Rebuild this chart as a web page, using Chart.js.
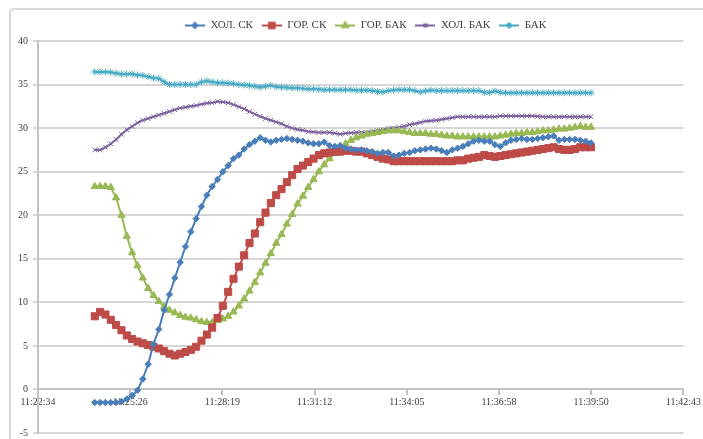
<!DOCTYPE html>
<html>
<head>
<meta charset="utf-8">
<script src="https://cdn.jsdelivr.net/npm/chart.js@4/dist/chart.umd.min.js"></script>
<style>
  html, body { margin: 0; padding: 0; background: #ffffff; }
  #wrap { position: relative; width: 703px; height: 439px; overflow: hidden; }
  #c { position: absolute; left: 0; top: 0; }
  #frame { position: absolute; left: 9px; top: 8px; width: 700px; height: 445px;
           border: 2px solid #d9d9d9; border-radius: 5px; box-sizing: border-box; pointer-events: none; }
</style>
</head>
<body>
<div id="wrap">
  <canvas id="c" width="703" height="439"></canvas>
  <div id="frame"></div>
</div>
<script>
// ---- Data (seconds since midnight; samples every 10 s from 11:24:20) ----
const startTime = 41060;      // 11:24:20
const sampleStep = 10;        // seconds between samples

const seriesNames = ['ХОЛ. СК', 'ГОР. СК', 'ГОР. БАК', 'ХОЛ. БАК', 'БАК'];

const holSK = [
  -1.5, -1.5, -1.5, -1.5, -1.5, -1.4, -1.1, -0.7, -0.1, 1.2,
  2.9, 5.2, 6.9, 9.1, 10.9, 12.8, 14.6, 16.4, 18.1, 19.6,
  21.0, 22.3, 23.3, 24.1, 25.0, 25.7, 26.5, 26.9, 27.6, 28.1,
  28.5, 28.9, 28.6, 28.4, 28.6, 28.7, 28.8, 28.7, 28.6, 28.5,
  28.3, 28.2, 28.2, 28.4, 28.0, 27.9, 28.0, 27.7, 27.6, 27.5,
  27.5, 27.4, 27.3, 27.1, 27.2, 27.2, 26.8, 26.9, 27.1, 27.2,
  27.4, 27.5, 27.6, 27.7, 27.6, 27.4, 27.2, 27.5, 27.7, 27.9,
  28.2, 28.5, 28.6, 28.5, 28.5, 28.1, 27.9, 28.3, 28.6, 28.7,
  28.8, 28.7, 28.7, 28.8, 28.9, 29.0, 29.1, 28.6, 28.7, 28.7,
  28.7, 28.6, 28.5, 28.3
];

const gorSK = [
  8.4, 8.9, 8.6, 8.0, 7.4, 6.8, 6.2, 5.8, 5.5, 5.3,
  5.1, 4.9, 4.7, 4.4, 4.1, 3.9, 4.1, 4.3, 4.55, 4.9,
  5.6, 6.3, 7.1, 8.2, 9.6, 11.2, 12.7, 14.1, 15.4, 16.8,
  17.9, 19.2, 20.3, 21.4, 22.3, 23.0, 23.8, 24.6, 25.3, 25.7,
  26.1, 26.5, 26.9, 27.1, 27.2, 27.3, 27.3, 27.4, 27.4, 27.3,
  27.3, 27.1, 26.9, 26.7, 26.5, 26.4, 26.2, 26.2, 26.2, 26.2,
  26.2, 26.2, 26.2, 26.2, 26.2, 26.2, 26.2, 26.2, 26.3, 26.3,
  26.5, 26.6, 26.7, 26.9, 26.8, 26.7, 26.8, 26.9, 27.0, 27.1,
  27.2, 27.3, 27.4, 27.5, 27.6, 27.7, 27.8, 27.6, 27.5, 27.5,
  27.6, 27.8, 27.8, 27.8
];

const gorBAK = [
  23.3, 23.3, 23.3, 23.2, 22.0, 20.0, 17.6, 15.7, 14.2, 12.8,
  11.6, 10.8, 10.1, 9.5, 9.1, 8.8, 8.5, 8.3, 8.2, 8.0,
  7.8, 7.7, 7.7, 7.9, 8.1, 8.4, 8.9, 9.6, 10.4, 11.3,
  12.3, 13.4, 14.5, 15.6, 16.8, 17.8, 19.0, 20.1, 21.3, 22.2,
  23.2, 24.1, 25.0, 25.8, 26.5, 27.1, 27.7, 28.2, 28.6, 28.9,
  29.1, 29.3, 29.4, 29.5, 29.6, 29.7, 29.7, 29.7, 29.6, 29.5,
  29.4, 29.4, 29.4, 29.3, 29.3, 29.2, 29.1, 29.1, 29.0, 29.0,
  29.0, 29.0, 29.0, 29.0, 29.0, 29.0, 29.1, 29.2, 29.3, 29.4,
  29.4, 29.5, 29.5, 29.6, 29.7, 29.7, 29.8, 29.9, 29.9, 30.0,
  30.1, 30.2, 30.1, 30.1
];

const holBAK = [
  27.5, 27.5, 27.8, 28.2, 28.7, 29.3, 29.8, 30.2, 30.6, 30.9,
  31.1, 31.3, 31.5, 31.7, 31.9, 32.1, 32.3, 32.4, 32.5, 32.6,
  32.75, 32.85, 32.9, 33.05, 33.0, 32.9, 32.7, 32.45, 32.2, 31.9,
  31.6, 31.35, 31.1, 30.9, 30.7, 30.5, 30.2, 30.0, 29.85, 29.75,
  29.6, 29.55, 29.5, 29.5, 29.5, 29.4, 29.3, 29.4, 29.45, 29.5,
  29.5, 29.5, 29.6, 29.7, 29.8, 29.95, 30.0, 30.1, 30.2, 30.4,
  30.5, 30.65, 30.8, 30.85, 30.9, 31.0, 31.1, 31.2, 31.3, 31.3,
  31.3, 31.3, 31.3, 31.3, 31.3, 31.3, 31.4, 31.4, 31.4, 31.4,
  31.4, 31.4, 31.4, 31.35, 31.3, 31.3, 31.3, 31.3, 31.3, 31.3,
  31.3, 31.3, 31.3, 31.3
];

const bak = [
  36.45, 36.45, 36.45, 36.4, 36.3, 36.2, 36.2, 36.2, 36.1, 36.05,
  35.9, 35.75, 35.7, 35.3, 35.0, 35.0, 35.0, 35.0, 35.0, 35.0,
  35.3, 35.4, 35.3, 35.2, 35.2, 35.15, 35.1, 35.0, 34.95, 34.9,
  34.8, 34.7, 34.8, 34.9, 34.75, 34.7, 34.65, 34.6, 34.6, 34.55,
  34.5, 34.5, 34.45, 34.4, 34.4, 34.4, 34.4, 34.4, 34.4, 34.35,
  34.35, 34.35, 34.3, 34.2, 34.15, 34.3, 34.35, 34.4, 34.4, 34.4,
  34.3, 34.15, 34.25, 34.35, 34.3, 34.3, 34.3, 34.3, 34.3, 34.3,
  34.3, 34.3, 34.3, 34.1, 34.1, 34.25, 34.1, 34.05, 34.05, 34.05,
  34.05, 34.05, 34.05, 34.05, 34.05, 34.05, 34.05, 34.05, 34.05, 34.05,
  34.05, 34.05, 34.05, 34.05
];

// x-axis tick values (seconds) and their labels
const xTickValues = [40953.6, 41126.4, 41299.2, 41472.0, 41644.8, 41817.6, 41990.4, 42163.2];
const xTickLabels = ['11:22:34', '11:25:26', '11:28:19', '11:31:12', '11:34:05', '11:36:58', '11:39:50', '11:42:43'];
const yTickValues = [-5, 0, 5, 10, 15, 20, 25, 30, 35, 40];

// ---- build ----
const seriesValues = [holSK, gorSK, gorBAK, holBAK, bak];
const colors = ['#4a7ebb', '#be4b48', '#98b954', '#7d60a0', '#46aac5'];
const pStyles = ['rectRot', 'rect', 'triangle', 'crossRot', 'star'];
const pRadius = [3.2, 5, 4.2, 3.3, 3.5];

function toPoints(arr) {
  return arr.map((v, i) => ({ x: startTime + i * sampleStep, y: v }));
}

function legendIcon(idx) {
  const cv = document.createElement('canvas');
  cv.width = 20; cv.height = 10;
  const ctx = cv.getContext('2d');
  ctx.strokeStyle = colors[idx];
  ctx.fillStyle = colors[idx];
  ctx.lineWidth = 2;
  ctx.beginPath(); ctx.moveTo(0, 5); ctx.lineTo(20, 5); ctx.stroke();
  Chart.helpers.drawPoint(ctx, { pointStyle: pStyles[idx], radius: pRadius[idx] * 0.8, borderWidth: 1, rotation: 0 }, 10, 5);
  return cv;
}

const datasets = seriesValues.map((vals, i) => ({
  label: seriesNames[i],
  data: toPoints(vals),
  borderColor: colors[i],
  backgroundColor: colors[i],
  borderWidth: 2,
  pointStyle: pStyles[i],
  pointRadius: pRadius[i],
  pointBorderWidth: 1,
  pointBackgroundColor: colors[i],
  pointBorderColor: colors[i],
  tension: 0,
  fill: false
}));

const icons = seriesNames.map((_, i) => legendIcon(i));

// shift the legend slightly to the right, as in the original
const legendShift = {
  id: 'legendShift',
  afterLayout(chart) {
    if (chart.legend) { chart.legend.left += 19; chart.legend.right += 19; }
  }
};

new Chart(document.getElementById('c'), {
  type: 'line',
  data: { datasets },
  plugins: [legendShift],
  options: {
    responsive: false,
    animation: false,
    layout: { padding: { left: 8, right: 18, top: 11, bottom: 5 } },
    plugins: {
      tooltip: { enabled: false },
      legend: {
        display: true,
        position: 'top',
        labels: {
          usePointStyle: true,
          pointStyleWidth: 20,
          padding: 9,
          color: '#404040',
          font: { family: 'Liberation Serif', size: 11 },
          generateLabels(chart) {
            const items = Chart.defaults.plugins.legend.labels.generateLabels(chart);
            items.forEach((it, i) => { it.pointStyle = icons[i]; });
            return items;
          }
        }
      }
    },
    scales: {
      x: {
        type: 'linear',
        position: { y: 0 },
        min: xTickValues[0],
        max: xTickValues[xTickValues.length - 1],
        afterBuildTicks(scale) { scale.ticks = xTickValues.map(v => ({ value: v })); },
        ticks: {
          autoSkip: false,
          maxRotation: 0,
          padding: 2,
          color: '#404040',
          font: { family: 'Liberation Serif', size: 10 },
          callback(value) {
            const k = xTickValues.findIndex(v => Math.abs(v - value) < 0.5);
            return k >= 0 ? xTickLabels[k] : '';
          }
        },
        grid: { drawOnChartArea: false, drawTicks: true, tickLength: 5, color: '#bfbfbf', lineWidth: 2 },
        border: { display: true, color: '#c4c4c4', width: 2 }
      },
      y: {
        type: 'linear',
        position: 'left',
        min: -5,
        max: 40,
        afterBuildTicks(scale) { scale.ticks = yTickValues.map(v => ({ value: v })); },
        afterFit(scale) { scale.width = 30; scale.paddingTop = 0; scale.paddingBottom = 0; },
        ticks: {
          padding: 5,
          color: '#404040',
          font: { family: 'Liberation Serif', size: 10 }
        },
        grid: { color: '#d6d6d6', lineWidth: 2, drawTicks: true, tickLength: 5 },
        border: { display: true, color: '#c4c4c4', width: 2 }
      }
    }
  }
});
</script>
</body>
</html>
